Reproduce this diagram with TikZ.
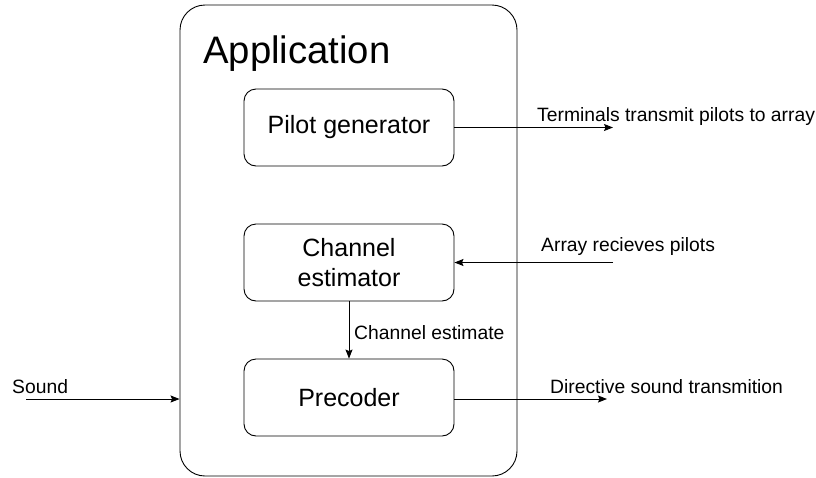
\documentclass[tikz,border=0pt]{standalone}
\usepackage{fontspec}
\setmainfont{Liberation Sans}
\usetikzlibrary{arrows.meta}

\tikzset{
	block/.style={draw, line width=0.9pt, rounded corners=12pt, minimum width=210pt, minimum height=77pt, align=center, font=\fontsize{25}{30}\selectfont},
	lbl/.style={anchor=west, inner sep=0pt, font=\fontsize{19.3}{22}\selectfont},
	arr/.style={line width=0.9pt, -{Stealth[length=9pt, width=7pt, inset=1.5pt]}}
}

\begin{document}
\begin{tikzpicture}[x=1pt, y=-1pt]
		\useasboundingbox (0,0) rectangle (816,477);

		% Application frame
		\node[draw, line width=0.9pt, rounded corners=25pt, minimum width=337pt, minimum height=471pt] (app) at (348.5,240.5) {};
		\node[anchor=base west, inner sep=0pt, font=\fontsize{38.3}{44}\selectfont] (title) at (203,63) {Application};

		% Blocks
		\node[block] (pilot) at (349,127.5) {Pilot generator};
		\node[block] (chan) at (349,262.5) {Channel\\estimator};
		\node[block] (prec) at (349,397.5) {Precoder};

		% Loose ends of the arrows
		\coordinate (pilotout) at (613,127.5);
		\coordinate (arrayin) at (613,262.5);
		\coordinate (soundin) at (26,399);
		\coordinate (dirout) at (607,399);

		% Arrows
		\draw[arr] (pilot.east) -- (pilotout);
		\draw[arr] (arrayin) -- (chan.east);
		\draw[arr] (chan.south) -- (prec.north);
		\draw[arr] (soundin) -- (soundin -| app.west);
		\draw[arr] (prec.east |- dirout) -- (dirout);

		% Labels
		\node[lbl] (tlbl) at (537,117) {Terminals transmit pilots to array};
		\node[lbl] (albl) at (541,247) {Array recieves pilots};
		\node[lbl] (clbl) at (354,333) {Channel estimate};
		\node[lbl] (slbl) at (12,387) {Sound};
		\node[lbl] (dlbl) at (550,387) {Directive sound transmition};
	\end{tikzpicture}
\end{document}
